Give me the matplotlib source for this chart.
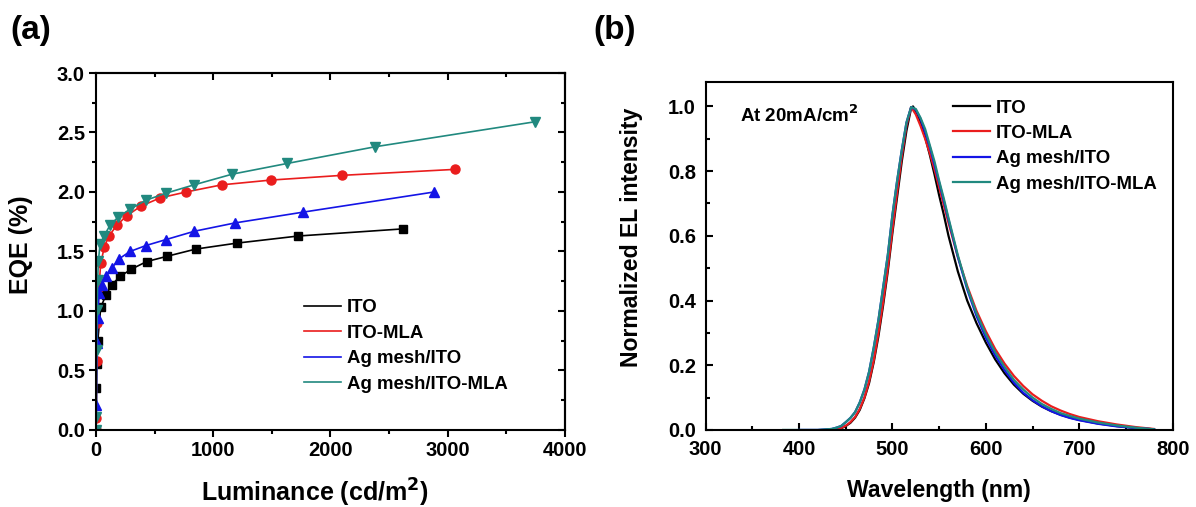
import matplotlib
matplotlib.use("Agg")
import matplotlib.pyplot as plt
from matplotlib.ticker import MultipleLocator

plt.rcParams["font.family"] = ["Liberation Sans", "DejaVu Sans"]
plt.rcParams["font.weight"] = "bold"

# (a) EQE vs luminance
lum_ito = [0, 2, 5, 15, 40, 83, 134, 205, 298, 432, 608, 850, 1200, 1726, 2621]
eqe_ito = [0.0, 0.35, 0.55, 0.75, 1.03, 1.13, 1.22, 1.29, 1.35, 1.415, 1.46, 1.52, 1.57, 1.63, 1.69]

lum_mla = [0, 2, 6, 12, 25, 40, 71, 111, 176, 262, 381, 546, 768, 1072, 1490, 2101, 3062]
eqe_mla = [0.0, 0.1, 0.58, 0.9, 1.2, 1.40, 1.54, 1.63, 1.72, 1.80, 1.88, 1.95, 2.00, 2.06, 2.10, 2.14, 2.19]

lum_ag = [0, 3, 8, 14, 26, 48, 85, 134, 199, 290, 426, 597, 839, 1186, 1763, 2885]
eqe_ag = [0.0, 0.21, 0.73, 0.94, 1.15, 1.22, 1.29, 1.36, 1.44, 1.50, 1.55, 1.60, 1.67, 1.74, 1.83, 2.00]

lum_agmla = [0, 2, 5, 9, 14, 20, 34, 68, 119, 190, 290, 424, 597, 836, 1163, 1632, 2380, 3744]
eqe_agmla = [0.0, 0.11, 0.67, 1.01, 1.26, 1.42, 1.56, 1.63, 1.72, 1.79, 1.855, 1.93, 1.99, 2.06, 2.15, 2.24, 2.38, 2.59]

# (b) normalized EL spectra at 20 mA/cm2
wl_agmla = [383, 400, 420, 435, 440, 445, 450, 455, 460, 465, 470, 475, 480, 485, 490,
            495, 500, 505, 510, 515, 520, 525, 530, 535, 540, 545, 550, 555, 560, 570,
            580, 590, 600, 610, 620, 630, 640, 650, 660, 670, 680, 690, 700, 720, 740,
            760, 780]
el_agmla = [0.0, 0.0, 0.0, 0.003, 0.007, 0.012, 0.024, 0.037, 0.055, 0.085, 0.125, 0.18,
            0.255, 0.34, 0.44, 0.54, 0.665, 0.77, 0.865, 0.95, 0.998, 0.992, 0.965, 0.93,
            0.88, 0.83, 0.77, 0.715, 0.655, 0.54, 0.44, 0.36, 0.295, 0.24, 0.195, 0.155,
            0.125, 0.10, 0.08, 0.065, 0.052, 0.043, 0.035, 0.023, 0.014, 0.007, 0.002]

wl_ag = wl_agmla[1:]
el_ag = [0.0, 0.0, 0.003, 0.007, 0.012, 0.024, 0.037, 0.055, 0.085, 0.125, 0.18,
         0.255, 0.34, 0.44, 0.54, 0.665, 0.77, 0.865, 0.95, 0.998, 0.99, 0.962, 0.92,
         0.875, 0.82, 0.765, 0.708, 0.65, 0.535, 0.435, 0.352, 0.285, 0.23, 0.185, 0.146,
         0.115, 0.092, 0.073, 0.058, 0.046, 0.037, 0.030, 0.019, 0.011, 0.006, 0.002]

wl_ito = [440, 445, 450, 455, 460, 465, 470, 475, 480, 485, 490, 495, 500, 505, 510,
          515, 520, 522, 525, 530, 535, 540, 545, 550, 555, 560, 570, 580, 590, 600,
          610, 620, 630, 640, 650, 660, 670, 680, 690, 700, 720, 740, 760, 780]
el_ito = [0.0, 0.005, 0.012, 0.022, 0.038, 0.062, 0.098, 0.145, 0.21, 0.29, 0.385, 0.49,
          0.61, 0.72, 0.83, 0.925, 0.995, 1.0, 0.985, 0.95, 0.905, 0.85, 0.79, 0.725,
          0.665, 0.60, 0.49, 0.40, 0.33, 0.27, 0.218, 0.175, 0.14, 0.112, 0.09, 0.072,
          0.058, 0.047, 0.038, 0.031, 0.020, 0.012, 0.006, 0.002]

wl_mla = [440, 445, 450, 455, 460, 465, 470, 475, 480, 485, 490, 495, 500, 505, 510,
          515, 520, 525, 530, 535, 540, 545, 550, 555, 560, 570, 580, 590, 600, 610,
          620, 630, 640, 650, 660, 670, 680, 690, 700, 720, 740, 760, 780]
el_mla = [0.0, 0.006, 0.013, 0.024, 0.04, 0.065, 0.10, 0.15, 0.215, 0.30, 0.395, 0.50,
          0.62, 0.735, 0.845, 0.94, 0.998, 0.975, 0.94, 0.90, 0.855, 0.805, 0.75, 0.695,
          0.64, 0.535, 0.445, 0.368, 0.305, 0.25, 0.205, 0.167, 0.136, 0.11, 0.09, 0.073,
          0.06, 0.049, 0.04, 0.027, 0.017, 0.009, 0.003]

labels = ["ITO", "ITO-MLA", "Ag mesh/ITO", "Ag mesh/ITO-MLA"]
colors = ["black", "#ea1d1d", "#1414e6", "#21897f"]
markers = ["s", "o", "^", "v"]
msizes = [5.5, 6.5, 7, 7]

TICK_FS = 14.5
LEG_FS = 13.4


def style_spines(ax):
    for sp in ax.spines.values():
        sp.set_linewidth(1.5)


fig = plt.figure(figsize=(11.96, 5.07), dpi=100)
ax1 = fig.add_axes([0.0803, 0.152, 0.392, 0.704])
ax2 = fig.add_axes([0.590, 0.152, 0.3905, 0.686])

# ---- panel (a)
curves_a = [(lum_ito, eqe_ito), (lum_mla, eqe_mla), (lum_ag, eqe_ag), (lum_agmla, eqe_agmla)]
for (x, y), lab, c, m, ms in zip(curves_a, labels, colors, markers, msizes):
    ax1.plot(x, y, color=c, lw=1.2, label=lab)
    ax1.plot(x, y, ls="none", marker=m, ms=ms, color=c)

ax1.set_xlim(0, 4000)
ax1.set_ylim(0, 3.0)
ax1.xaxis.set_major_locator(MultipleLocator(1000))
ax1.xaxis.set_minor_locator(MultipleLocator(500))
ax1.yaxis.set_major_locator(MultipleLocator(0.5))
ax1.yaxis.set_minor_locator(MultipleLocator(0.25))
ax1.yaxis.set_major_formatter(plt.FormatStrFormatter("%.1f"))
ax1.tick_params(which="both", direction="out", width=1.5, labelsize=TICK_FS, pad=3)
ax1.tick_params(which="major", length=5)
ax1.tick_params(which="minor", length=3)
for lbl in ax1.get_xticklabels() + ax1.get_yticklabels():
    lbl.set_fontweight("bold")

top = ax1.secondary_xaxis("top")
top.xaxis.set_major_locator(MultipleLocator(1000))
top.xaxis.set_minor_locator(MultipleLocator(500))
top.tick_params(which="both", direction="in", labeltop=False, width=1.5)
top.tick_params(which="major", length=5)
top.tick_params(which="minor", length=3)
right = ax1.secondary_yaxis("right")
right.yaxis.set_major_locator(MultipleLocator(0.5))
right.yaxis.set_minor_locator(MultipleLocator(0.25))
right.tick_params(which="both", direction="in", labelright=False, width=1.5)
right.tick_params(which="major", length=5)
right.tick_params(which="minor", length=3)
for sp in list(top.spines.values()) + list(right.spines.values()):
    sp.set_linewidth(1.5)
style_spines(ax1)

ax1.set_xlabel("Luminance (cd/m$^\\mathbf{2}$)", fontsize=18, fontweight="bold")
ax1.set_ylabel("EQE (%)", fontsize=18, fontweight="bold")
ax1.xaxis.set_label_coords(0.467, -0.13)
ax1.yaxis.set_label_coords(-0.135, 0.52)

ax1.legend(loc="upper left", bbox_to_anchor=(0.443, 0.366), frameon=False,
           handlelength=2.0, handletextpad=0.3, labelspacing=0.45,
           borderpad=0, borderaxespad=0, prop={"weight": "bold", "size": LEG_FS})

# ---- panel (b)
curves_b = [(wl_ito, el_ito), (wl_mla, el_mla), (wl_ag, el_ag), (wl_agmla, el_agmla)]
for (x, y), lab, c in zip(curves_b, labels, colors):
    ax2.plot(x, y, color=c, lw=1.6, label=lab)

ax2.set_xlim(300, 800)
ax2.set_ylim(0, 1.075)
ax2.xaxis.set_major_locator(MultipleLocator(100))
ax2.xaxis.set_minor_locator(MultipleLocator(50))
ax2.yaxis.set_major_locator(MultipleLocator(0.2))
ax2.yaxis.set_minor_locator(MultipleLocator(0.1))
ax2.yaxis.set_major_formatter(plt.FormatStrFormatter("%.1f"))
ax2.tick_params(which="both", direction="in", width=1.5, labelsize=TICK_FS)
ax2.tick_params(which="major", length=5, pad=7)
ax2.tick_params(which="minor", length=3, pad=7)
for lbl in ax2.get_xticklabels() + ax2.get_yticklabels():
    lbl.set_fontweight("bold")
style_spines(ax2)

ax2.set_xlabel("Wavelength (nm)", fontsize=16.6, fontweight="bold")
ax2.set_ylabel("Normalized EL intensity", fontsize=16.6, fontweight="bold")
ax2.xaxis.set_label_coords(0.5, -0.14)
ax2.yaxis.set_label_coords(-0.135, 0.555)

ax2.text(0.073, 0.905, "At 20mA/cm$^\\mathbf{2}$", transform=ax2.transAxes,
         fontsize=13.5, fontweight="bold", va="center", ha="left")
ax2.legend(loc="upper left", bbox_to_anchor=(0.529, 0.95), frameon=False,
           handlelength=2.0, handletextpad=0.3, labelspacing=0.45,
           borderpad=0, borderaxespad=0, prop={"weight": "bold", "size": LEG_FS})

fig.text(10 / 1196, 1 - 31 / 507, "(a)", fontsize=24, fontweight="bold", va="center")
fig.text(593 / 1196, 1 - 31 / 507, "(b)", fontsize=24, fontweight="bold", va="center")

fig.savefig("out.png", dpi=100)
